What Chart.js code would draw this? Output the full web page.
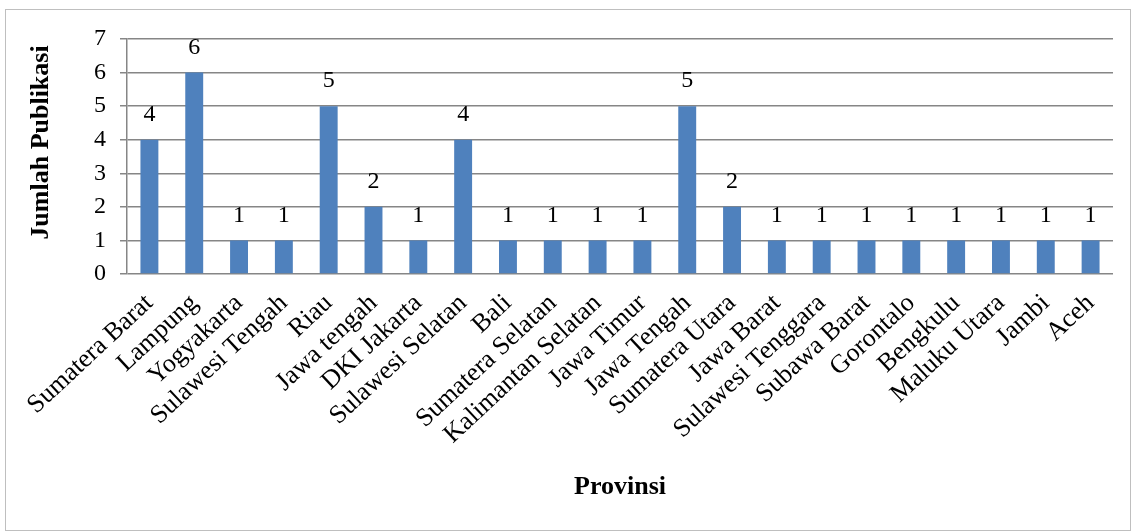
<!DOCTYPE html>
<html>
<head>
<meta charset="utf-8">
<script src="https://cdn.jsdelivr.net/npm/chart.js@4/dist/chart.umd.min.js"></script>
<style>
  body { margin: 0; background: #fff; }
  #box { position: absolute; left: 5px; top: 9px; width: 1124px; height: 520px; border: 1px solid #bfbfbf; }
</style>
</head>
<body>
<div id="box"><canvas id="chart"></canvas></div>
<script>
const provinsi = [
  "Sumatera Barat", "Lampung", "Yogyakarta", "Sulawesi Tengah", "Riau",
  "Jawa tengah", "DKI Jakarta", "Sulawesi Selatan", "Bali", "Sumatera Selatan",
  "Kalimantan Selatan", "Jawa Timur", "Jawa Tengah", "Sumatera Utara", "Jawa Barat",
  "Sulawesi Tenggara", "Subawa Barat", "Gorontalo", "Bengkulu", "Maluku Utara",
  "Jambi", "Aceh"
];
const jumlahPublikasi = [4, 6, 1, 1, 5, 2, 1, 4, 1, 1, 1, 1, 5, 2, 1, 1, 1, 1, 1, 1, 1, 1];
const yMin = 0;
const yMax = 7;
const judulY = "Jumlah Publikasi";
const judulX = "Provinsi";

const serif = "'Liberation Serif', 'Times New Roman', serif";

// angka di atas batang + judul sumbu Y
const labelAtas = {
  id: "labelAtas",
  afterDatasetsDraw(chart) {
    const ctx = chart.ctx;
    const meta = chart.getDatasetMeta(0);
    ctx.save();
    ctx.font = "24px " + serif;
    ctx.fillStyle = "#000";
    ctx.textAlign = "center";
    ctx.textBaseline = "middle";
    meta.data.forEach((bar, i) => {
      ctx.fillText(String(jumlahPublikasi[i]), bar.x, bar.y - 25);
    });
    ctx.restore();
  },
  afterDraw(chart) {
    const ctx = chart.ctx;
    const area = chart.chartArea;
    ctx.save();
    ctx.translate(35, (area.top + area.bottom) / 2 - 14);
    ctx.rotate(-Math.PI / 2);
    ctx.font = "bold 26px " + serif;
    ctx.fillStyle = "#000";
    ctx.textAlign = "center";
    ctx.textBaseline = "middle";
    ctx.fillText(judulY, 0, 0);
    ctx.restore();
  }
};

new Chart(document.getElementById("chart"), {
  type: "bar",
  data: {
    labels: provinsi,
    datasets: [{
      data: jumlahPublikasi,
      backgroundColor: "#4f81bd",
      barPercentage: 0.4,
      categoryPercentage: 1.0
    }]
  },
  options: {
    responsive: true,
    maintainAspectRatio: false,
    animation: false,
    layout: { padding: { left: 0, right: 17, top: 29, bottom: 0 } },
    plugins: {
      legend: { display: false },
      tooltip: { enabled: false }
    },
    scales: {
      x: {
        afterFit(scale) { scale.height = 256; },
        grid: { display: false },
        border: { display: false },
        ticks: {
          color: "#000",
          font: { family: serif, size: 26 },
          maxRotation: 43,
          minRotation: 43,
          autoSkip: false,
          padding: 6
        },
        title: {
          display: true,
          text: judulX,
          color: "#000",
          font: { family: serif, size: 26, weight: "bold" },
          padding: { top: 0, bottom: 27 }
        }
      },
      y: {
        min: yMin,
        max: yMax,
        afterFit(scale) { scale.width = 121; },
        grid: { color: "#868686", lineWidth: 1.5, tickLength: 7 },
        border: { display: true, color: "#868686", width: 1.5 },
        ticks: {
          stepSize: 1,
          color: "#000",
          font: { family: serif, size: 24 },
          padding: 14
        }
      }
    }
  },
  plugins: [labelAtas]
});
</script>
</body>
</html>
